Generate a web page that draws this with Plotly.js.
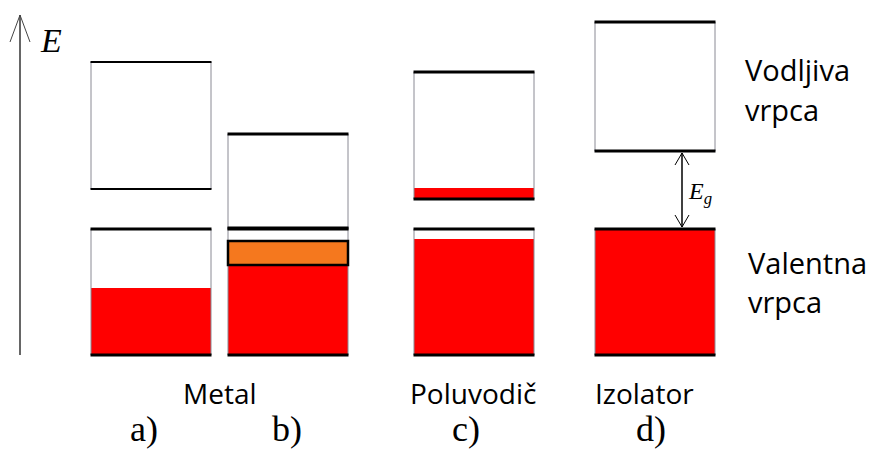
<!DOCTYPE html>
<html>
<head>
<meta charset="utf-8">
<script src="https://cdn.plot.ly/plotly-3.0.1.min.js"></script>
<style>html,body{margin:0;padding:0;background:#fff;}#chart{width:869px;height:451px;}</style>
</head>
<body>
<div id="chart"></div>
<script>
// ---- Data (energy, arbitrary units; 0 = bottom of valence band) ----
const panels = ['a)', 'b)', 'c)', 'd)'];
const groupLabels = ['Metal', 'Poluvodič', 'Izolator'];
const conductionBottom = [166, 127, 156, 204];
const conductionTop = [293, 221, 283, 333];
const conductionFilledTop = [null, null, 167, null];   // electrons in conduction band
const valenceBottom = [0, 0, 0, 0];
const valenceTop = [126, 126, 126, 126];
const valenceFilledTop = [67, 90, 116, 126];           // filled (red) part of valence band
const partialBottom = [null, 90, null, null];          // overlapping partially filled region (b)
const partialTop = [null, 114, null, null];
const bandLabels = ['Vodljiva', 'vrpca', 'Valentna', 'vrpca'];

// ---- Layout constants ----
const colLeft = [91, 228, 414, 595];
const colWidth = 120;
const RED = '#ff0000', ORANGE = '#f5781e', EDGE = '#8a8a94';

const shapes = [];
function rect(x0, x1, y0, y1, fill, lineColor, lineWidth) {
  shapes.push({type: 'rect', xref: 'x', yref: 'y', x0, x1, y0, y1,
    fillcolor: fill, line: {color: lineColor || 'rgba(0,0,0,0)', width: lineWidth || 0}, layer: 'above'});
}
function line(x0, y0, x1, y1, color, width) {
  shapes.push({type: 'line', xref: 'x', yref: 'y', x0, y0, x1, y1, line: {color, width}, layer: 'above'});
}
function path(d, color, width) {
  shapes.push({type: 'path', xref: 'x', yref: 'y', path: d, line: {color, width}, layer: 'above'});
}
function band(x0, x1, b, t, topW, botW) {
  line(x0, b, x0, t, EDGE, 1);
  line(x1, b, x1, t, EDGE, 1);
  line(x0 - 0.5, t, x1 + 0.5, t, '#000', topW);
  line(x0 - 0.5, b, x1 + 0.5, b, '#000', botW);
}

panels.forEach((p, i) => {
  const x0 = colLeft[i], x1 = colLeft[i] + colWidth;
  rect(x0, x1, valenceBottom[i], valenceFilledTop[i], RED);
  if (conductionFilledTop[i] !== null) rect(x0, x1, conductionBottom[i], conductionFilledTop[i], RED);
  band(x0, x1, conductionBottom[i], conductionTop[i], i === 0 ? 2 : 3, i === 0 ? 2 : 3);
  band(x0, x1, valenceBottom[i], valenceTop[i], 3, 3);
  if (partialBottom[i] !== null) rect(x0, x1, partialBottom[i], partialTop[i], ORANGE, '#000', 2.5);
});

// Energy axis arrow
const axX = 20;
line(axX, 0, axX, 340, '#333', 1.5);
path(`M ${axX - 10} 313 L ${axX} 340 L ${axX + 10} 313`, '#444', 1);

// Gap arrow (d)
const gx = colLeft[3] + 87;
const gTop = conductionBottom[3] - 2, gBot = valenceTop[3] + 2;
line(gx, gBot, gx, gTop, '#000', 1.5);
path(`M ${gx - 7} ${gTop - 12} L ${gx} ${gTop} L ${gx + 7} ${gTop - 12}`, '#000', 1);
path(`M ${gx - 7} ${gBot + 12} L ${gx} ${gBot} L ${gx + 7} ${gBot + 12}`, '#000', 1);

// ---- Text ----
const sans = 'Open Sans';
const serif = 'Liberation Serif';
const annotations = [];
function txt(text, x, y, size, family, xanchor, extra) {
  annotations.push(Object.assign({text, x, y, xref: 'x', yref: 'y', showarrow: false,
    xanchor: xanchor || 'center', yanchor: 'middle', font: {size, family, color: '#000'}}, extra || {}));
}
const panelLabelX = [144, 287, 466, 651];
panels.forEach((p, i) => txt(p, panelLabelX[i], 355 - 429, 36, serif));
const groupX = [220, 473, 644];
groupLabels.forEach((g, i) => txt(g, groupX[i], 355 - 393, 28, sans));
const bandLabelY = [69, 109, 262, 301];
const bandLabelX = [743, 743, 746, 746];
bandLabels.forEach((b, i) => txt(b, bandLabelX[i], 355 - bandLabelY[i], 29, sans, 'left'));
txt('<i>E</i>', 51, 355 - 40, 34, serif);
txt('<i>E<sub>g</sub></i>', 700, (conductionBottom[3] + valenceTop[3]) / 2 - 3, 24, serif);

const layout = {
  width: 869, height: 451,
  margin: {l: 0, r: 0, t: 0, b: 0},
  paper_bgcolor: '#fff', plot_bgcolor: '#fff',
  xaxis: {range: [0, 869], visible: false, fixedrange: true},
  yaxis: {range: [-96, 355], visible: false, fixedrange: true},
  showlegend: false,
  shapes, annotations
};
Plotly.newPlot('chart', [{x: [], y: [], type: 'scatter'}], layout, {staticPlot: true, displayModeBar: false});
</script>
</body>
</html>
